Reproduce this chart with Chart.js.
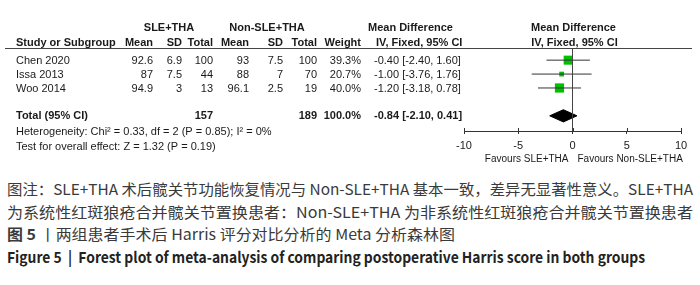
<!DOCTYPE html>
<html>
<head>
<meta charset="utf-8">
<script src="https://cdn.jsdelivr.net/npm/chart.js@4/dist/chart.umd.min.js"></script>
<style>
  html, body { margin: 0; padding: 0; background: #fff; width: 700px; height: 285px; overflow: hidden; }
  #wrap { position: absolute; left: 0; top: 0; width: 700px; height: 170px; }
  .cap { position: absolute; left: 7px; white-space: nowrap; font-family: "Noto Sans CJK SC", sans-serif;
         font-size: 15px; line-height: 18px; color: #3a3a3a; transform-origin: 0 0; }
  .cap b { font-weight: bold; }
  #c4 { font-weight: bold; color: #222; }
</style>
</head>
<body>
<div id="wrap"><canvas id="forest" width="700" height="170"></canvas></div>
<div class="cap" id="c1" style="top:180px">图注：SLE+THA 术后髋关节功能恢复情况与 Non-SLE+THA 基本一致，差异无显著性意义。SLE+THA</div>
<div class="cap" id="c2" style="top:203px">为系统性红斑狼疮合并髋关节置换患者：Non-SLE+THA 为非系统性红斑狼疮合并髋关节置换患者</div>
<div class="cap" id="c3" style="top:225px"><b>图 5</b> 丨两组患者手术后 Harris 评分对比分析的 Meta 分析森林图</div>
<div class="cap" id="c4" style="top:248px">Figure 5 &nbsp;| &nbsp;Forest plot of meta-analysis of comparing postoperative Harris score in both groups</div>
<script>
// study data
const studies = ["Chen 2020", "Issa 2013", "Woo 2014"];
const sleMean = ["92.6", "87", "94.9"];
const sleSD = ["6.9", "7.5", "3"];
const sleTotal = [100, 44, 13];
const nonMean = ["93", "88", "96.1"];
const nonSD = ["7.5", "7", "2.5"];
const nonTotal = [100, 70, 19];
const weight = [39.3, 20.7, 40.0];
const md = [-0.40, -1.00, -1.20];
const ciLo = [-2.40, -3.76, -3.18];
const ciHi = [1.60, 1.76, 0.78];
const rowPos = [0, 1, 2];

// pooled result
const totalRow = 4;
const totalMD = -0.84, totalLo = -2.10, totalHi = 0.41;
const totalN = [157, 189];
const heteroText = "Heterogeneity: Chi\u00b2 = 0.33, df = 2 (P = 0.85); I\u00b2 = 0%";
const effectText = "Test for overall effect: Z = 1.32 (P = 0.19)";

const xTicks = [-10, -5, 0, 5, 10];
const yMin = -0.873, yMax = 5.091;

const F = "'Liberation Sans', Arial, sans-serif";
const green = "#00c000";

const datasets = [];
// zero line
datasets.push({ data: [{x: 0, y: yMin}, {x: 0, y: yMax}], showLine: true, borderColor: "#444",
  borderWidth: 1, pointRadius: 0 });
// confidence intervals
studies.forEach((s, i) => {
  datasets.push({ data: [{x: ciLo[i], y: rowPos[i]}, {x: ciHi[i], y: rowPos[i]}], showLine: true,
    borderColor: "#333", borderWidth: 1, pointRadius: 0 });
});
// weighted squares
datasets.push({
  data: md.map((v, i) => ({x: v, y: rowPos[i]})),
  pointStyle: "rect",
  pointRadius: weight.map(w => w * 0.23 / Math.SQRT2),
  backgroundColor: green, borderWidth: 0
});
// pooled diamond
datasets.push({
  data: [{x: totalLo, y: totalRow}, {x: totalMD, y: totalRow - 0.44}, {x: totalHi, y: totalRow},
         {x: totalMD, y: totalRow + 0.44}, {x: totalLo, y: totalRow}],
  showLine: true, fill: "shape", borderColor: "#000", borderWidth: 1,
  backgroundColor: "#000", pointRadius: 0
});

const tablePlugin = {
  id: "table",
  afterDraw(chart) {
    const {ctx, chartArea, scales: {x, y}} = chart;
    const top = chartArea.top, bottom = chartArea.bottom;
    ctx.save();
    ctx.fillStyle = "#1a1a1a";
    ctx.textBaseline = "middle";
    const txt = (s, px, py, align, bold, size) => {
      ctx.font = (bold ? "bold " : "") + (size || 11) + "px " + F;
      ctx.textAlign = align;
      ctx.fillText(s, px, py);
    };

    // headers
    const h1 = top - 20, h2 = top - 5;
    txt("SLE+THA", 169, h1, "center", true);
    txt("Non-SLE+THA", 267, h1, "center", true);
    txt("Mean Difference", 368, h1, "left", true);
    const zx = x.getPixelForValue(0);
    txt("Mean Difference", zx + 1, h1, "center", true);
    txt("Study or Subgroup", 16, h2, "left", true);
    txt("Mean", 153, h2, "right", true);
    txt("SD", 182, h2, "right", true);
    txt("Total", 213, h2, "right", true);
    txt("Mean", 249, h2, "right", true);
    txt("SD", 283, h2, "right", true);
    txt("Total", 317, h2, "right", true);
    txt("Weight", 361, h2, "right", true);
    txt("IV, Fixed, 95% CI", 376, h2, "left", true);
    txt("IV, Fixed, 95% CI", zx + 2, h2, "center", true);
    ctx.strokeStyle = "#444";
    ctx.lineWidth = 1;
    ctx.beginPath();
    ctx.moveTo(5, top + 0.5);
    ctx.lineTo(692, top + 0.5);
    ctx.stroke();

    // study rows
    studies.forEach((s, i) => {
      const py = y.getPixelForValue(rowPos[i]) + 1;
      txt(s, 16, py, "left");
      txt(sleMean[i], 153, py, "right");
      txt(sleSD[i], 182, py, "right");
      txt(String(sleTotal[i]), 213, py, "right");
      txt(nonMean[i], 249, py, "right");
      txt(nonSD[i], 283, py, "right");
      txt(String(nonTotal[i]), 317, py, "right");
      txt(weight[i].toFixed(1) + "%", 361, py, "right");
      txt(md[i].toFixed(2) + " [" + ciLo[i].toFixed(2) + ", " + ciHi[i].toFixed(2) + "]", 374, py, "left");
    });

    // total rows
    const ty = y.getPixelForValue(totalRow);
    txt("Total (95% CI)", 16, ty, "left", true);
    txt(String(totalN[0]), 213, ty, "right", true);
    txt(String(totalN[1]), 317, ty, "right", true);
    txt("100.0%", 361, ty, "right", true);
    txt(totalMD.toFixed(2) + " [" + totalLo.toFixed(2) + ", " + totalHi.toFixed(2) + "]", 374, ty, "left", true);
    txt(heteroText, 16, y.getPixelForValue(totalRow + 1.16), "left");
    txt(effectText, 16, y.getPixelForValue(totalRow + 2.25), "left");

    // upper half of the tick marks
    ctx.strokeStyle = "#333";
    x.ticks.forEach((t) => {
      const px = Math.round(x.getPixelForValue(t.value)) + 0.5;
      ctx.beginPath();
      ctx.moveTo(px, bottom - 3);
      ctx.lineTo(px, bottom);
      ctx.stroke();
    });

    // favours labels
    txt("Favours SLE+THA", zx - 4, bottom + 28, "right", false, 10);
    txt("Favours Non-SLE+THA", zx + 5, bottom + 28, "left", false, 10);
    ctx.restore();
  }
};

new Chart(document.getElementById("forest"), {
  type: "scatter",
  data: { datasets: datasets },
  options: {
    responsive: false,
    animation: false,
    devicePixelRatio: 1,
    layout: { padding: { left: 464, right: 19, top: 48, bottom: 0 } },
    plugins: { legend: { display: false }, tooltip: { enabled: false } },
    events: [],
    scales: {
      x: {
        type: "linear",
        min: xTicks[0],
        max: xTicks[xTicks.length - 1],
        afterBuildTicks: (scale) => { scale.ticks = xTicks.map(v => ({value: v})); },
        afterFit: (scale) => { scale.height = 39; },
        ticks: { color: "#1a1a1a", font: { family: F, size: 11 }, padding: 5 },
        grid: { drawOnChartArea: false, drawTicks: true, tickLength: 3, color: "#333" },
        border: { color: "#333", width: 1 }
      },
      y: { type: "linear", display: false, reverse: true, min: yMin, max: yMax }
    }
  },
  plugins: [tablePlugin]
});

// stretch caption lines to the widths they occupy in the figure
const capWidths = { c1: 686, c2: 686, c3: 448, c4: 638 };
Object.keys(capWidths).forEach((id) => {
  const el = document.getElementById(id);
  const w = el.getBoundingClientRect().width;
  el.style.transform = "scaleX(" + (capWidths[id] / w) + ")";
});
</script>
</body>
</html>
